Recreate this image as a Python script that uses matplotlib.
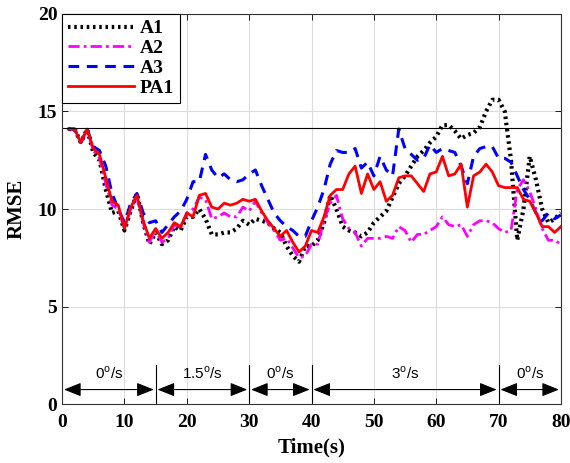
import numpy as np
import matplotlib
matplotlib.use('Agg')
import matplotlib.pyplot as plt

# tiempo (s)
t = np.arange(1, 81)

a1 = [14.1, 14.1, 13.4, 14.1, 12.9, 12.5, 11.0, 9.8, 9.9, 8.9,
      9.9, 10.8, 9.3, 8.2, 8.8, 8.2, 8.4, 9.1, 8.9, 9.6,
      9.6, 10.0, 9.5, 8.7, 8.7, 8.8, 8.8, 9.0, 9.4, 9.2,
      9.5, 9.4, 9.3, 9.0, 8.8, 8.1, 7.6, 7.3, 8.1, 8.1,
      8.4, 9.3, 10.7, 10.0, 9.1, 8.9, 8.8, 8.6, 8.8, 9.3,
      9.6, 9.9, 10.6, 11.3, 11.7, 12.2, 12.7, 13.0, 13.4, 13.7,
      14.3, 14.3, 14.0, 13.6, 13.8, 13.9, 14.2, 15.0, 15.6, 15.6,
      15.0, 12.5, 8.4, 10.0, 12.7, 11.5, 10.0, 9.3, 9.5, 9.8]

a2 = [14.1, 14.1, 13.4, 14.1, 13.0, 12.6, 11.3, 10.2, 10.0, 9.0,
      10.0, 10.6, 9.3, 8.3, 8.9, 8.3, 8.5, 9.2, 9.0, 9.8,
      10.0, 10.6, 10.5, 9.5, 9.6, 9.8, 9.6, 9.6, 10.1, 9.9,
      10.4, 9.8, 9.3, 8.9, 8.4, 8.5, 8.0, 7.5, 7.6, 8.2,
      8.2, 9.4, 10.3, 10.7, 9.5, 9.0, 8.8, 8.1, 8.5, 8.5,
      8.5, 8.6, 8.5, 9.1, 8.9, 8.3, 8.7, 8.7, 8.9, 9.1,
      9.6, 9.2, 9.1, 9.2, 8.6, 9.2, 9.4, 9.4, 9.3, 9.0,
      8.8, 8.9, 11.0, 11.5, 10.9, 10.0, 9.0, 8.4, 8.4, 8.2]

a3 = [14.1, 14.1, 13.4, 14.1, 13.2, 13.0, 12.2, 10.8, 10.0, 9.3,
      10.3, 10.8, 9.8, 9.3, 9.4, 8.8, 9.2, 9.6, 9.9, 10.5,
      11.4, 11.4, 12.8, 12.0, 11.6, 11.8, 11.5, 11.4, 11.5, 11.8,
      12.0, 11.2, 10.5, 9.8, 9.4, 9.1, 8.9, 8.6, 8.6, 9.4,
      10.1, 11.0, 12.3, 13.0, 12.9, 12.9, 13.1, 12.1, 12.4, 11.7,
      12.7, 12.0, 11.7, 14.1, 13.1, 12.8, 12.5, 12.6, 13.3, 12.9,
      13.1, 13.0, 12.9, 12.2, 11.3, 12.7, 13.1, 13.2, 13.2, 12.6,
      12.6, 12.4, 11.7, 11.0, 10.5, 9.8, 9.4, 9.8, 9.5, 9.7]

pa1 = [14.1, 14.1, 13.4, 14.1, 13.1, 12.8, 11.6, 10.4, 10.2, 9.0,
       10.1, 10.7, 9.4, 8.5, 9.0, 8.5, 8.8, 9.3, 9.1, 9.8,
       9.6, 10.7, 10.8, 10.1, 10.0, 10.3, 10.2, 10.3, 10.5, 10.4,
       10.5, 9.9, 9.4, 9.0, 8.6, 8.9, 8.3, 7.8, 8.1, 8.9,
       8.8, 9.6, 10.7, 11.0, 11.0, 11.8, 12.2, 10.8, 11.8, 11.0,
       11.4, 10.4, 10.7, 11.6, 11.7, 11.7, 11.3, 10.9, 11.8, 11.9,
       12.7, 11.7, 11.8, 12.3, 10.1, 11.7, 11.9, 12.3, 11.9, 11.2,
       11.1, 11.1, 11.1, 10.5, 10.4, 9.8, 9.1, 9.1, 8.8, 9.1]

umbral = 14.15

# tramos de velocidad angular
limites = [0, 15, 30, 40, 70, 80]
etiquetas = ['0', '1.5', '0', '3', '0']

plt.rcParams['mathtext.fontset'] = 'custom'
plt.rcParams['mathtext.rm'] = 'Liberation Sans'
plt.rcParams['font.family'] = ['Liberation Serif', 'DejaVu Serif']

fig = plt.figure(figsize=(5.7, 4.63), dpi=100)
ax = fig.add_axes([0.109, 0.127, 0.875, 0.843])

ax.plot(t, a1, color='black', linestyle=(0, (0.6, 0.9)), linewidth=3.0, label='A1')
ax.plot(t, a2, color='#ff00ff', linestyle=(0, (4, 1.5, 1, 1.5)), linewidth=2.0, label='A2')
ax.plot(t, a3, color='#0000ff', linestyle=(0, (3.5, 2.5)), linewidth=2.2, label='A3')
ax.plot(t, pa1, color='#ff0000', linewidth=2.0, label='PA1')

ax.axhline(umbral, color='black', linewidth=0.8)

# flechas y lineas verticales
for i in range(len(etiquetas)):
    x0 = limites[i]
    x1 = limites[i + 1]
    ax.annotate('', xy=(x1 - 0.3, 0.75), xytext=(x0 + 0.3, 0.75),
                arrowprops=dict(arrowstyle='<|-|>,head_length=0.75,head_width=0.3',
                                color='black', lw=0.8,
                                mutation_scale=14, shrinkA=0, shrinkB=0))
    ax.text((x0 + x1) / 2.0, 1.6, etiquetas[i] + r'$^{\rm o}$/s',
            ha='center', va='center', fontsize=11, family='Liberation Sans')
for x in limites[1:-1]:
    ax.plot([x, x], [0, 2.0], color='black', linewidth=0.8)

ax.set_xlim(0, 80)
ax.set_ylim(0, 20)
ax.set_xticks(range(0, 81, 10))
ax.set_yticks(range(0, 21, 5))
ax.grid(True, color='#dcdcdc', linewidth=0.8)
ax.set_axisbelow(True)
ax.tick_params(direction='in', top=True, right=True, length=4, labelsize=14, width=0.6)
ax.tick_params(axis='x', pad=7)
for lab in ax.get_xticklabels() + ax.get_yticklabels():
    lab.set_fontweight('bold')
for s in ax.spines.values():
    s.set_linewidth(0.8)
    s.set_color('#333333')

ax.set_xlabel('Time(s)', fontsize=15, fontweight='bold', labelpad=5)
ax.set_ylabel('RMSE', fontsize=15, fontweight='bold', labelpad=8)

leg = ax.legend(loc='upper left', prop={'weight': 'bold', 'size': 14},
                fancybox=False, framealpha=1, edgecolor='black',
                handlelength=3.4, borderaxespad=0, labelspacing=0.12,
                handletextpad=0.3, borderpad=0.3)
leg.get_frame().set_linewidth(0.8)

plt.savefig('out.png', dpi=100)
